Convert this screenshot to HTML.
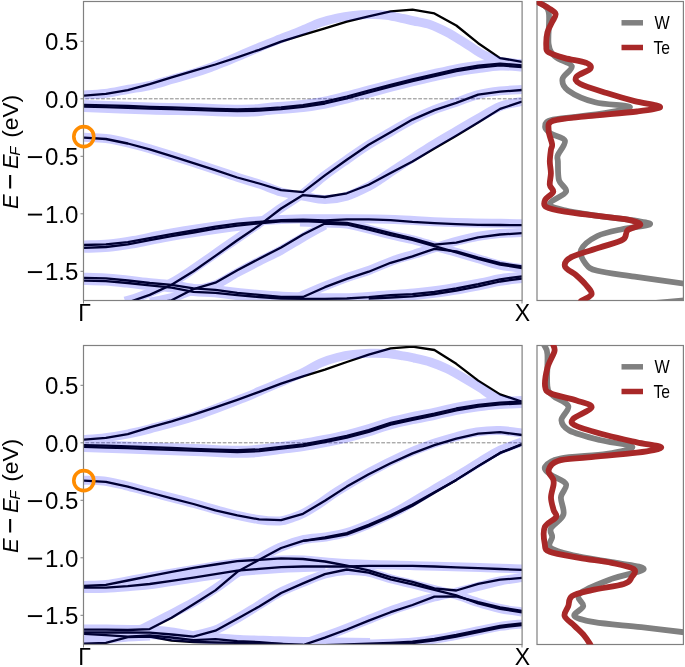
<!DOCTYPE html>
<html><head><meta charset="utf-8"><title>Band structure</title>
<style>
html,body{margin:0;padding:0;background:#fff;}
body{width:685px;height:667px;overflow:hidden;}
svg{display:block;}
text{font-family:"Liberation Sans",sans-serif;fill:#000;}
svg{will-change:transform;}
</style></head><body>
<svg width="685" height="667" viewBox="0 0 685 667">
<rect width="685" height="667" fill="#fff"/>
<clipPath id="c1"><rect x="84" y="1.0" width="438" height="299.5"/></clipPath>
<g clip-path="url(#c1)" fill="none" stroke-linejoin="round">
<line x1="84" y1="98.8" x2="522" y2="98.8" stroke="#888" stroke-width="1" stroke-dasharray="3.75 1.535" stroke-dashoffset="-1.3"/>
<path d="M84.0 95.7L105.9 93.9L127.8 90.1L149.7 84.2L171.6 77.4L193.5 70.9L215.4 64.5L237.3 57.3L259.2 49.8L281.1 41.7L303.0 34.8L324.9 28.3L346.8 21.6L368.7 16.3L390.6 11.4L412.5 9.7L434.4 13.4L456.3 25.5L478.2 43.2L500.1 58.1L522.0 61.8" stroke="#000" stroke-width="2.3"/>
<path d="M84.0 104.8L105.9 105.3L127.8 106.0L149.7 106.8L171.6 107.4L193.5 108.1L215.4 108.9L237.3 109.4L259.2 108.9L281.1 107.3L303.0 105.1L324.9 101.7L346.8 96.5L368.7 90.7L390.6 84.9L412.5 79.3L434.4 74.3L456.3 69.4L478.2 65.7L500.1 63.6L522.0 65.3" stroke="#000" stroke-width="2.3"/>
<path d="M84.0 106.6L105.9 107.1L127.8 107.8L149.7 108.6L171.6 109.2L193.5 109.9L215.4 110.7L237.3 111.2L259.2 110.7L281.1 109.1L303.0 106.9L324.9 103.5L346.8 98.3L368.7 92.5L390.6 86.7L412.5 81.1L434.4 76.1L456.3 71.2L478.2 67.5L500.1 65.4L522.0 67.1" stroke="#000" stroke-width="2.3"/>
<path d="M84.0 137.6L105.9 139.0L127.8 143.5L149.7 149.3L171.6 156.1L193.5 163.1L215.4 170.1L237.3 177.5L259.2 183.5L281.1 190.2L303.0 192.1L324.9 175.4L346.8 159.7L368.7 144.8L390.6 132.2L412.5 119.6L434.4 110.1L456.3 102.9L478.2 94.6L500.1 91.7L522.0 90.0" stroke="#000" stroke-width="2.3"/>
<path d="M127.8 302.5L149.7 294.9L171.6 284.7L193.5 271.3L215.4 255.9L237.3 240.3L259.2 225.4L281.1 208.5L303.0 195.1L324.9 197.0L346.8 193.3L368.7 184.8L390.6 172.9L412.5 161.4L434.4 148.4L456.3 135.8L478.2 122.6L500.1 108.9L522.0 101.6" stroke="#000" stroke-width="2.3"/>
<path d="M84.0 245.0L105.9 244.4L127.8 242.1L149.7 238.1L171.6 234.1L193.5 230.5L215.4 226.7L237.3 223.7L259.2 221.8L281.1 220.1L303.0 219.7L324.9 220.5L346.8 219.4L368.7 219.4L390.6 220.2L412.5 221.9L434.4 223.1L456.3 224.1L478.2 224.8L500.1 225.0L522.0 225.2" stroke="#000" stroke-width="2.3"/>
<path d="M84.0 247.8L105.9 247.0L127.8 244.3L149.7 240.1L171.6 236.1L193.5 232.5L215.4 228.7L237.3 225.7L259.2 223.3L281.1 221.4L303.0 221.0L324.9 222.0L346.8 222.8L368.7 227.7L390.6 233.1L412.5 238.3L434.4 244.6L456.3 242.7L478.2 237.4L500.1 234.5L522.0 233.2" stroke="#000" stroke-width="2.3"/>
<path d="M149.7 303.8L171.6 300.3L193.5 289.1L215.4 282.7L237.3 270.2L259.2 258.7L281.1 247.5L303.0 234.5L324.9 223.5L346.8 224.5L368.7 229.7L390.6 235.1L412.5 240.0L434.4 246.2L456.3 252.4L478.2 258.9L500.1 264.7L522.0 268.0" stroke="#000" stroke-width="2.3"/>
<path d="M84.0 277.9L105.9 278.3L127.8 280.5L149.7 283.0L171.6 284.9L193.5 288.3L215.4 289.8L237.3 292.9L259.2 294.9L281.1 296.8L303.0 297.0L324.9 287.2L346.8 278.9L368.7 271.7L390.6 262.8L412.5 256.3L434.4 248.8L456.3 251.3L478.2 257.6L500.1 263.2L522.0 266.3" stroke="#000" stroke-width="2.3"/>
<path d="M84.0 280.6L105.9 281.2L127.8 283.0L149.7 285.3L171.6 287.7L193.5 291.8L215.4 292.8L237.3 295.1L259.2 297.0L281.1 298.5L303.0 298.9L324.9 298.8L346.8 298.5L368.7 297.1L390.6 295.2L412.5 294.1L434.4 291.8L456.3 288.5L478.2 284.2L500.1 279.3L522.0 276.3" stroke="#000" stroke-width="2.3"/>
<path d="M368.7 298.7L390.6 297.5L412.5 296.3L434.4 294.0L456.3 290.7L478.2 286.4L500.1 281.5L522.0 278.5" stroke="#000" stroke-width="2.3"/>
<g opacity="0.20" stroke="#0000ff">
<path d="M84.0 95.0C87.5 94.8 97.6 94.5 105.0 93.5C112.4 92.5 121.0 90.6 128.5 89.3C136.0 88.0 142.8 87.1 150.0 85.5C157.2 83.9 164.1 81.6 171.4 79.5C178.7 77.4 187.5 75.0 194.0 73.0C200.5 71.0 205.0 69.5 210.5 67.5C216.0 65.5 221.5 63.2 227.0 61.0C232.5 58.8 238.0 56.3 243.5 54.0C249.0 51.7 254.5 49.3 260.0 47.0C265.5 44.7 271.0 42.6 276.5 40.4C282.0 38.2 288.4 35.8 293.0 34.0C297.6 32.2 299.4 31.4 304.0 29.5C308.6 27.6 315.0 24.4 320.5 22.5C326.0 20.6 331.5 19.3 337.0 18.1C342.5 16.9 348.0 16.1 353.5 15.5C359.0 14.9 364.5 14.6 370.0 14.5C375.5 14.4 381.0 14.5 386.5 15.2C392.0 15.9 398.4 17.5 403.0 18.5C407.6 19.5 409.4 20.0 414.0 21.0C418.6 22.0 425.0 22.8 430.5 24.7C436.0 26.6 441.5 29.3 447.0 32.2C452.5 35.1 458.0 38.7 463.5 42.1C469.0 45.5 475.3 50.1 480.0 52.8C484.7 55.5 488.2 57.0 491.5 58.5C494.8 60.0 494.9 60.6 500.0 61.5C505.1 62.4 518.3 63.6 522.0 64.0" stroke-width="9.0"/>
<path d="M84.0 106.0C95.0 106.4 131.7 108.0 150.0 108.5C168.3 109.0 181.2 109.0 194.0 109.3C206.8 109.6 217.4 110.3 227.0 110.5C236.6 110.7 244.5 110.8 251.7 110.5C258.9 110.2 261.4 109.5 270.0 108.8C278.6 108.0 293.9 107.0 303.0 106.0C312.1 105.0 317.6 104.0 324.9 102.6C332.2 101.2 339.5 99.2 346.8 97.4C354.1 95.6 361.4 93.5 368.7 91.6C376.0 89.7 383.3 87.7 390.6 85.8C397.9 83.9 405.2 82.0 412.5 80.2C419.8 78.4 427.1 76.9 434.4 75.2C441.7 73.5 449.0 71.7 456.3 70.3C463.6 68.9 470.9 68.0 478.2 67.0C485.5 66.0 492.8 64.8 500.1 64.5C507.4 64.2 518.4 65.3 522.0 65.5" stroke-width="12.0"/>
<path d="M84.0 137.3C87.7 137.5 98.6 137.6 105.9 138.5C113.2 139.4 120.5 141.1 127.8 142.8C135.1 144.5 138.8 145.5 149.7 148.8C160.6 152.1 178.9 157.8 193.5 162.5C208.1 167.2 226.4 173.7 237.3 177.3C248.2 180.9 251.9 181.6 259.2 184.0C266.5 186.4 273.8 190.0 281.1 192.0C288.4 194.0 295.7 194.8 303.0 196.0C310.3 197.2 317.7 199.5 325.0 199.5C332.3 199.5 339.5 198.4 346.8 196.2C354.1 194.0 363.2 189.3 368.7 186.5C374.2 183.7 375.7 182.3 380.0 179.5C384.3 176.7 389.0 173.2 394.7 169.5C400.4 165.8 407.4 161.2 414.0 157.0C420.6 152.8 427.3 148.3 434.4 144.0C441.4 139.7 449.0 135.4 456.3 131.2C463.6 126.9 470.9 122.6 478.2 118.5C485.5 114.4 492.8 109.4 500.1 106.5C507.4 103.6 518.4 102.2 522.0 101.3" stroke-width="9.0"/>
<path d="M125.0 301.0C127.5 300.2 132.3 299.5 140.0 296.5C147.7 293.5 162.0 287.7 171.0 283.0C180.0 278.3 184.7 274.8 194.0 268.5C203.3 262.2 216.3 252.9 227.0 245.5C237.7 238.1 249.3 230.2 258.3 224.0C267.3 217.8 273.7 213.1 281.1 208.0C288.6 202.9 295.7 198.9 303.0 193.5C310.3 188.1 317.6 181.0 324.9 175.4C332.2 169.8 339.5 164.8 346.8 159.7C354.1 154.6 361.4 149.4 368.7 144.8C376.0 140.2 383.3 136.2 390.6 132.0C397.9 127.8 405.2 123.1 412.5 119.4C419.8 115.7 427.1 112.5 434.4 109.6C441.7 106.7 449.0 104.7 456.3 102.2C463.6 99.7 470.9 96.5 478.2 94.6C485.5 92.7 492.8 91.7 500.1 90.9C507.4 90.1 518.4 89.8 522.0 89.6" stroke-width="9.0"/>
<path d="M84.0 245.0C88.1 244.8 100.5 244.8 108.7 244.0C117.0 243.2 125.2 241.9 133.5 240.5C141.8 239.1 149.9 237.1 158.2 235.5C166.4 233.9 171.5 232.8 183.0 231.0C194.5 229.2 214.2 226.2 227.0 224.5C239.8 222.8 247.2 221.8 260.0 220.8C272.8 219.9 289.8 219.1 304.0 218.8C318.2 218.5 329.9 218.7 345.0 218.8C360.1 218.9 377.7 218.9 394.7 219.5C411.7 220.1 425.8 221.5 447.0 222.2C468.2 222.9 509.5 223.4 522.0 223.7" stroke-width="9.0"/>
<path d="M84.0 248.3C88.1 248.1 100.5 248.1 108.7 247.3C117.0 246.6 125.2 245.2 133.5 243.8C141.8 242.4 149.9 240.4 158.2 238.8C166.4 237.2 171.5 236.1 183.0 234.3C194.5 232.5 214.2 229.5 227.0 227.8C239.8 226.1 254.5 224.7 260.0 224.1" stroke-width="9.0"/>
<path d="M300.0 222.0C304.2 222.2 317.6 222.7 325.4 223.0C333.2 223.3 339.5 222.9 346.9 224.0C354.3 225.1 362.6 227.7 370.0 229.5C377.4 231.3 384.1 233.2 391.4 235.0C398.7 236.8 406.7 238.1 414.0 240.0C421.3 241.9 428.5 244.4 435.4 246.4C442.3 248.4 448.0 249.9 455.2 252.0C462.4 254.1 470.9 256.5 478.3 258.7C485.7 260.9 492.5 263.4 499.8 265.0C507.1 266.6 518.3 267.9 522.0 268.5" stroke-width="9.0"/>
<path d="M150.0 302.0C154.0 301.2 166.9 298.9 174.0 297.0C181.1 295.1 185.8 292.4 192.5 290.5C199.2 288.6 206.9 288.3 214.4 285.3C221.9 282.3 229.8 276.6 237.3 272.6C244.8 268.6 251.9 264.9 259.2 261.2C266.5 257.5 273.8 254.2 281.1 250.2C288.4 246.2 295.7 241.5 303.0 237.3C310.3 233.1 321.2 227.1 324.9 225.0" stroke-width="9.0"/>
<path d="M84.0 277.2C87.6 277.3 98.2 277.4 105.4 277.9C112.6 278.3 120.1 279.2 126.9 279.9C133.7 280.6 139.0 281.4 146.3 282.2C153.6 283.0 162.9 283.6 170.8 284.6C178.7 285.6 186.3 287.6 193.6 288.4C200.9 289.2 206.9 288.9 214.6 289.6C222.3 290.3 228.7 291.6 240.0 292.7C251.3 293.8 269.3 295.5 282.6 296.2C295.9 296.9 313.8 296.8 320.0 296.9" stroke-width="9.0"/>
<path d="M84.0 280.4C87.6 280.5 98.2 280.7 105.4 281.1C112.6 281.6 120.1 282.4 126.9 283.1C133.7 283.8 139.0 284.6 146.3 285.4C153.6 286.2 162.9 286.8 170.8 287.8C178.7 288.8 186.3 290.8 193.6 291.6C200.9 292.4 206.9 292.1 214.6 292.8C222.3 293.5 228.7 294.8 240.0 295.9C251.3 297.0 269.3 298.7 282.6 299.4C295.9 300.1 313.8 300.0 320.0 300.1" stroke-width="9.0"/>
<path d="M300.0 296.5C304.4 294.7 318.1 288.8 326.4 285.5C334.7 282.2 342.7 279.1 350.0 276.5C357.3 273.9 362.6 272.8 370.0 270.0C377.4 267.2 387.4 262.6 394.7 260.0C402.0 257.4 407.2 256.4 414.0 254.3C420.8 252.2 428.5 249.6 435.4 247.5C442.3 245.4 448.0 243.4 455.2 241.5C462.4 239.6 470.9 237.5 478.3 236.2C485.7 234.9 492.5 234.1 499.8 233.5C507.1 232.9 518.3 232.7 522.0 232.5" stroke-width="9.0"/>
<path d="M320.0 297.8C325.6 297.7 342.4 297.9 353.5 297.4C364.6 296.9 376.4 295.7 386.5 295.0C396.6 294.3 403.9 294.0 414.0 293.0C424.1 292.0 436.0 290.7 447.0 289.0C458.0 287.3 471.2 284.7 480.0 283.0C488.8 281.3 492.8 280.0 499.8 278.8C506.8 277.6 518.3 276.5 522.0 276.0" stroke-width="9.0"/>
<path d="M320.0 300.3C325.6 300.2 342.4 300.4 353.5 299.9C364.6 299.4 376.4 298.2 386.5 297.5C396.6 296.8 403.9 296.5 414.0 295.5C424.1 294.5 436.0 293.2 447.0 291.5C458.0 289.8 471.2 287.2 480.0 285.5C488.8 283.8 492.8 282.5 499.8 281.3C506.8 280.1 518.3 279.0 522.0 278.5" stroke-width="9.0"/>
</g>
</g>
<rect x="83.5" y="1.5" width="438.6" height="299.0" fill="none" stroke="#808080" stroke-width="1.2"/>
<line x1="80.5" y1="41.3" x2="83.5" y2="41.3" stroke="#808080" stroke-width="1"/>
<line x1="80.5" y1="98.8" x2="83.5" y2="98.8" stroke="#808080" stroke-width="1"/>
<line x1="80.5" y1="156.3" x2="83.5" y2="156.3" stroke="#808080" stroke-width="1"/>
<line x1="80.5" y1="213.8" x2="83.5" y2="213.8" stroke="#808080" stroke-width="1"/>
<line x1="80.5" y1="271.3" x2="83.5" y2="271.3" stroke="#808080" stroke-width="1"/>
<line x1="83.5" y1="300.5" x2="83.5" y2="303.5" stroke="#808080" stroke-width="1"/>
<line x1="522" y1="300.5" x2="522" y2="303.5" stroke="#808080" stroke-width="1"/>
<text x="78.4" y="50.2" text-anchor="end" font-size="23.3" textLength="33.5" lengthAdjust="spacingAndGlyphs">0.5</text>
<text x="78.4" y="107.7" text-anchor="end" font-size="23.3" textLength="33.5" lengthAdjust="spacingAndGlyphs">0.0</text>
<text x="78.4" y="165.2" text-anchor="end" font-size="23.3" textLength="33.5" lengthAdjust="spacingAndGlyphs">0.5</text>
<rect x="27.9" y="156.15" width="14.2" height="1.9"/>
<text x="78.4" y="222.7" text-anchor="end" font-size="23.3" textLength="33.5" lengthAdjust="spacingAndGlyphs">1.0</text>
<rect x="27.9" y="213.65" width="14.2" height="1.9"/>
<text x="78.4" y="280.2" text-anchor="end" font-size="23.3" textLength="33.5" lengthAdjust="spacingAndGlyphs">1.5</text>
<rect x="27.9" y="271.15" width="14.2" height="1.9"/>
<text x="84.7" y="321.3" text-anchor="middle" font-size="23">Γ</text>
<text x="522.5" y="321.3" text-anchor="middle" font-size="23">X</text>
<text transform="translate(17.6 209.1) rotate(-90)" font-size="22" font-style="italic">E</text>
<rect x="9.1" y="175.0" width="2.1" height="13.5"/>
<text transform="translate(17.6 169.0) rotate(-90)" font-size="22" font-style="italic">E<tspan font-size="15" dx="-1.4" dy="2.2">F</tspan></text>
<text transform="translate(17.6 137.8) rotate(-90)" font-size="22" textLength="43.0" lengthAdjust="spacingAndGlyphs">(eV)</text>
<circle cx="83.8" cy="136.6" r="10" fill="none" stroke="#ff8c00" stroke-width="3.6"/>
<clipPath id="c2"><rect x="84" y="345.0" width="438" height="299.5"/></clipPath>
<g clip-path="url(#c2)" fill="none" stroke-linejoin="round">
<line x1="84" y1="442.8" x2="522" y2="442.8" stroke="#888" stroke-width="1" stroke-dasharray="3.75 1.535" stroke-dashoffset="-1.3"/>
<path d="M84.0 439.7L105.9 437.9L127.8 434.1L149.7 427.4L171.6 421.4L193.5 414.7L215.4 407.4L237.3 399.8L259.2 391.8L281.1 383.6L303.0 376.3L324.9 369.7L346.8 362.0L368.7 354.6L390.6 348.3L412.5 346.6L434.4 350.0L456.3 363.8L478.2 380.6L500.1 394.4L522.0 401.7" stroke="#000" stroke-width="2.3"/>
<path d="M84.0 445.1L105.9 445.7L127.8 446.4L149.7 447.2L171.6 448.0L193.5 448.8L215.4 449.6L237.3 450.2L259.2 449.4L281.1 446.9L303.0 444.4L324.9 440.4L346.8 435.9L368.7 430.1L390.6 422.9L412.5 418.1L434.4 413.6L456.3 408.5L478.2 404.9L500.1 402.6L522.0 401.6" stroke="#000" stroke-width="2.3"/>
<path d="M84.0 446.9L105.9 447.5L127.8 448.2L149.7 449.0L171.6 449.8L193.5 450.6L215.4 451.4L237.3 452.0L259.2 451.2L281.1 448.7L303.0 446.2L324.9 442.2L346.8 437.7L368.7 431.9L390.6 424.7L412.5 419.9L434.4 415.4L456.3 410.3L478.2 406.7L500.1 404.4L522.0 403.4" stroke="#000" stroke-width="2.3"/>
<path d="M84.0 480.6L105.9 481.8L127.8 486.6L149.7 492.5L171.6 498.4L193.5 504.0L215.4 510.4L237.3 515.3L259.2 519.4L281.1 520.1L303.0 513.8L324.9 500.7L346.8 486.6L368.7 474.3L390.6 463.3L412.5 453.4L434.4 445.2L456.3 438.7L478.2 433.6L500.1 432.2L522.0 435.0" stroke="#000" stroke-width="2.3"/>
<path d="M84.0 629.6L105.9 629.6L127.8 630.0L149.7 629.1L171.6 617.7L193.5 604.3L215.4 590.4L237.3 571.8L259.2 559.8L281.1 548.0L303.0 540.8L324.9 537.4L346.8 533.1L368.7 524.9L390.6 515.2L412.5 504.5L434.4 492.3L456.3 479.9L478.2 466.1L500.1 452.9L522.0 444.0" stroke="#000" stroke-width="2.3"/>
<path d="M303.0 540.8L324.9 538.4L346.8 534.4L368.7 526.2L390.6 516.5L412.5 505.7L434.4 492.7L456.3 479.9L478.2 466.1L500.1 452.9L522.0 444.6" stroke="#000" stroke-width="2.3"/>
<path d="M84.0 586.0L105.9 584.8L127.8 580.5L149.7 576.1L171.6 571.8L193.5 567.9L215.4 564.5L237.3 561.1L259.2 559.8L281.1 558.3L303.0 559.0L324.9 561.5L346.8 565.7L368.7 570.3L390.6 577.0L412.5 581.8L434.4 588.3L456.3 590.5L478.2 583.8L500.1 579.7L522.0 577.9" stroke="#000" stroke-width="2.3"/>
<path d="M84.0 587.6L105.9 587.6L127.8 586.1L149.7 584.0L171.6 580.9L193.5 577.6L215.4 574.2L237.3 570.6L259.2 568.9L281.1 567.2L303.0 566.5L324.9 566.5L346.8 566.5L368.7 565.9L390.6 565.8L412.5 565.9L434.4 566.5L456.3 567.3L478.2 568.1L500.1 569.0L522.0 569.8" stroke="#000" stroke-width="2.3"/>
<path d="M84.0 632.4L105.9 632.5L127.8 632.5L149.7 632.6L171.6 634.5L193.5 636.6L215.4 630.7L237.3 618.8L259.2 606.4L281.1 593.0L303.0 583.4L324.9 574.1L346.8 569.5L368.7 572.7L390.6 579.3L412.5 584.3L434.4 589.8L456.3 595.4L478.2 603.5L500.1 608.8L522.0 612.3" stroke="#000" stroke-width="2.3"/>
<path d="M303.0 645.1L324.9 637.6L346.8 629.5L368.7 620.6L390.6 612.2L412.5 605.0L434.4 596.6L456.3 596.4L478.2 602.2L500.1 607.4L522.0 610.9" stroke="#000" stroke-width="2.3"/>
<path d="M324.9 645.2L346.8 644.4L368.7 643.6L390.6 642.8L412.5 641.6L434.4 638.8L456.3 634.9L478.2 630.4L500.1 625.9L522.0 623.4" stroke="#000" stroke-width="2.3"/>
<path d="M324.9 646.8L346.8 646.0L368.7 645.2L390.6 644.4L412.5 643.2L434.4 640.4L456.3 636.5L478.2 632.0L500.1 627.5L522.0 625.0" stroke="#000" stroke-width="2.3"/>
<path d="M84.0 633.8L105.9 635.2L127.8 636.6L149.7 635.3L171.6 637.5L193.5 640.1L215.4 639.1L237.3 641.1L259.2 642.1L281.1 643.9L303.0 645.8L324.9 646.8L346.8 647.7" stroke="#000" stroke-width="2.3"/>
<path d="M84.0 643.6L105.9 642.8L127.8 637.1L149.7 636.7L171.6 640.5L193.5 642.0L215.4 642.5L237.3 642.9L259.2 643.5L281.1 644.0L303.0 644.6" stroke="#000" stroke-width="2.3"/>
<g opacity="0.20" stroke="#0000ff">
<path d="M84.0 439.5C87.6 439.2 98.0 438.6 105.4 437.6C112.8 436.7 121.1 435.3 128.5 433.8C135.9 432.3 139.1 431.7 150.0 428.8C160.9 425.9 178.4 421.6 194.0 416.5C209.6 411.4 232.5 402.2 243.5 398.0C254.5 393.8 254.5 393.3 260.0 391.0C265.5 388.7 269.2 387.2 276.5 384.0C283.8 380.8 296.7 375.5 304.0 372.0C311.3 368.5 315.0 365.4 320.5 363.0C326.0 360.6 331.5 358.9 337.0 357.5C342.5 356.1 348.0 355.1 353.5 354.4C359.0 353.7 364.5 353.3 370.0 353.2C375.5 353.1 381.0 353.1 386.5 353.5C392.0 353.9 398.4 355.1 403.0 355.9C407.6 356.6 409.4 357.0 414.0 358.0C418.6 359.0 425.0 360.3 430.5 362.1C436.0 363.9 441.5 366.1 447.0 368.7C452.5 371.3 458.0 374.6 463.5 377.8C469.0 381.0 475.1 384.6 480.0 387.7C484.9 390.8 488.8 394.3 493.0 396.5C497.2 398.7 500.2 399.9 505.0 401.0C509.8 402.1 519.2 402.7 522.0 403.0" stroke-width="9.0"/>
<path d="M84.0 446.0C92.2 446.3 115.2 447.1 133.5 447.8C151.8 448.5 178.4 449.4 194.0 450.0C209.6 450.6 217.4 451.2 227.0 451.5C236.6 451.8 242.1 452.2 251.7 451.5C261.3 450.8 276.1 448.5 284.7 447.4C293.2 446.3 296.3 446.1 303.0 445.0C309.7 443.9 317.6 442.4 324.9 441.0C332.2 439.6 339.5 438.1 346.8 436.3C354.1 434.5 361.4 432.5 368.7 430.3C376.0 428.1 383.3 425.2 390.6 423.2C397.9 421.2 405.2 419.8 412.5 418.2C419.8 416.6 427.1 415.4 434.4 413.8C441.7 412.2 449.0 410.2 456.3 408.8C463.6 407.4 470.9 406.3 478.2 405.3C485.5 404.3 492.8 403.6 500.1 403.0C507.4 402.4 518.4 402.2 522.0 402.0" stroke-width="12.0"/>
<path d="M84.0 480.3C87.3 480.4 96.9 480.1 103.8 481.0C110.7 481.9 117.5 483.7 125.2 485.5C132.9 487.3 138.5 489.0 150.0 492.0C161.5 495.0 181.2 500.0 194.0 503.5C206.8 507.0 216.3 510.1 227.0 512.8C237.7 515.5 249.5 518.1 258.3 519.5C267.1 520.9 274.0 521.3 279.8 521.0C285.6 520.7 289.0 518.8 293.0 517.5C297.0 516.2 299.4 515.4 304.0 513.0C308.6 510.6 315.0 506.6 320.5 503.0C326.0 499.4 328.8 496.7 337.0 491.5C345.2 486.3 359.0 478.0 370.0 472.0C381.0 466.0 392.9 460.1 403.0 455.5C413.1 450.9 421.5 447.7 430.5 444.5C439.5 441.3 449.3 438.6 457.0 436.5C464.7 434.4 469.6 433.0 476.7 432.0C483.8 431.0 492.2 430.3 499.8 430.5C507.4 430.7 518.3 432.6 522.0 433.0" stroke-width="9.0"/>
<path d="M140.0 630.0C144.4 627.8 157.5 621.2 166.5 616.5C175.5 611.8 185.8 606.7 194.0 602.0C202.2 597.3 208.2 593.3 215.4 588.5C222.6 583.7 229.8 577.9 236.9 573.0C244.1 568.1 251.2 563.2 258.3 559.0C265.4 554.8 272.2 550.8 279.8 547.5C287.4 544.2 296.4 541.2 304.0 539.5C311.6 537.8 318.2 538.2 325.4 537.0C332.5 535.8 339.5 534.7 346.9 532.5C354.3 530.3 362.8 526.8 370.0 523.8C377.2 520.8 384.5 517.4 390.0 514.8C395.5 512.2 396.2 511.9 403.0 508.0C409.8 504.1 423.2 495.9 430.5 491.5C437.8 487.1 441.5 485.0 447.0 481.8C452.5 478.6 458.0 475.5 463.5 472.2C469.0 468.9 473.9 465.4 480.0 461.8C486.1 458.2 492.8 453.6 499.8 450.3C506.8 447.0 518.3 443.4 522.0 442.0" stroke-width="9.0"/>
<path d="M84.0 585.5C87.7 585.3 98.3 585.3 106.0 584.5C113.7 583.7 122.1 581.9 130.0 580.5C137.9 579.1 142.7 578.1 153.4 576.3C164.1 574.5 180.1 571.7 194.0 569.5C207.9 567.3 222.6 564.6 236.9 563.0C251.2 561.4 268.6 560.5 279.8 560.0C291.0 559.5 292.8 559.4 304.0 560.0C315.2 560.6 328.6 562.5 346.9 563.5C365.2 564.5 391.8 565.0 414.0 565.7C436.2 566.4 462.0 567.0 480.0 567.5C498.0 568.0 515.0 568.8 522.0 569.0" stroke-width="9.0"/>
<path d="M84.0 588.5C87.7 588.5 98.3 588.6 106.0 588.3C113.7 588.0 122.1 587.2 130.0 586.5C137.9 585.8 142.7 585.6 153.4 584.2C164.1 582.8 180.1 580.0 194.0 578.0C207.9 576.0 222.6 573.6 236.9 572.0C251.2 570.4 268.6 569.2 279.8 568.5C291.0 567.8 296.4 567.8 304.0 567.5C311.6 567.2 321.8 567.1 325.4 567.0" stroke-width="9.0"/>
<path d="M325.4 563.5C329.0 564.1 339.5 565.5 346.9 567.0C354.3 568.5 362.6 570.5 370.0 572.5C377.4 574.5 384.3 577.1 391.4 579.0C398.5 580.9 405.3 582.2 412.5 584.0C419.7 585.8 427.1 587.7 434.4 589.5C441.7 591.3 449.0 592.8 456.3 595.0C463.6 597.2 470.9 600.2 478.2 602.5C485.5 604.8 492.8 606.9 500.1 608.5C507.4 610.1 518.4 611.4 522.0 612.0" stroke-width="9.0"/>
<path d="M194.0 635.5C197.6 634.6 208.2 632.8 215.4 630.0C222.6 627.2 229.8 622.6 236.9 618.5C244.1 614.4 251.2 609.8 258.3 605.5C265.4 601.2 272.2 596.4 279.8 592.5C287.4 588.6 296.4 585.1 304.0 582.0C311.6 578.9 318.2 575.9 325.4 574.0C332.5 572.1 339.5 570.8 346.9 570.5C354.3 570.2 366.1 571.8 370.0 572.0" stroke-width="9.0"/>
<path d="M304.0 643.5C309.5 641.6 326.0 636.1 337.0 632.0C348.0 627.9 360.9 622.6 370.0 619.0C379.1 615.4 384.3 613.1 391.4 610.5C398.5 607.9 405.3 605.8 412.5 603.5C419.7 601.2 427.1 598.9 434.4 597.0C441.7 595.1 449.0 593.8 456.3 592.0C463.6 590.2 470.9 588.3 478.2 586.5C485.5 584.7 492.8 582.5 500.1 581.0C507.4 579.5 518.4 578.1 522.0 577.5" stroke-width="9.0"/>
<path d="M330.0 645.5C336.7 645.2 356.0 644.6 370.0 644.0C384.0 643.4 401.2 643.1 414.0 642.0C426.8 640.9 436.0 639.0 447.0 637.1C458.0 635.2 471.2 632.3 480.0 630.5C488.8 628.7 492.8 627.5 499.8 626.4C506.8 625.3 518.3 624.3 522.0 623.9" stroke-width="9.0"/>
<path d="M84.0 629.0C87.9 629.0 99.6 628.9 107.4 629.0C115.2 629.1 124.0 629.4 130.7 629.5C137.4 629.6 140.8 629.1 147.6 629.5C154.4 629.9 163.9 631.0 171.6 632.0C179.3 633.0 186.9 634.6 193.9 635.5C200.9 636.4 206.0 636.8 213.7 637.5C221.4 638.2 230.6 639.0 240.0 639.5C249.4 640.0 259.3 640.2 270.0 640.5C280.7 640.8 287.3 641.2 304.0 641.5C320.7 641.8 359.0 642.3 370.0 642.5" stroke-width="9.0"/>
<path d="M84.0 633.0C89.8 633.2 108.0 633.8 119.0 634.0C130.0 634.2 137.5 633.8 150.0 634.5C162.5 635.2 175.7 637.2 194.0 638.5C212.3 639.8 241.7 641.2 260.0 642.0C278.3 642.8 296.7 642.8 304.0 643.0" stroke-width="9.0"/>
<path d="M84.0 639.5C87.5 639.5 97.7 639.7 105.0 639.3C112.3 638.9 120.3 637.5 127.8 637.0C135.3 636.5 146.3 636.2 150.0 636.0" stroke-width="9.0"/>
</g>
</g>
<rect x="83.5" y="345.5" width="438.6" height="299.0" fill="none" stroke="#808080" stroke-width="1.2"/>
<line x1="80.5" y1="385.3" x2="83.5" y2="385.3" stroke="#808080" stroke-width="1"/>
<line x1="80.5" y1="442.8" x2="83.5" y2="442.8" stroke="#808080" stroke-width="1"/>
<line x1="80.5" y1="500.3" x2="83.5" y2="500.3" stroke="#808080" stroke-width="1"/>
<line x1="80.5" y1="557.8" x2="83.5" y2="557.8" stroke="#808080" stroke-width="1"/>
<line x1="80.5" y1="615.3" x2="83.5" y2="615.3" stroke="#808080" stroke-width="1"/>
<line x1="83.5" y1="644.5" x2="83.5" y2="647.5" stroke="#808080" stroke-width="1"/>
<line x1="522" y1="644.5" x2="522" y2="647.5" stroke="#808080" stroke-width="1"/>
<text x="78.4" y="394.2" text-anchor="end" font-size="23.3" textLength="33.5" lengthAdjust="spacingAndGlyphs">0.5</text>
<text x="78.4" y="451.7" text-anchor="end" font-size="23.3" textLength="33.5" lengthAdjust="spacingAndGlyphs">0.0</text>
<text x="78.4" y="509.2" text-anchor="end" font-size="23.3" textLength="33.5" lengthAdjust="spacingAndGlyphs">0.5</text>
<rect x="27.9" y="500.15" width="14.2" height="1.9"/>
<text x="78.4" y="566.7" text-anchor="end" font-size="23.3" textLength="33.5" lengthAdjust="spacingAndGlyphs">1.0</text>
<rect x="27.9" y="557.65" width="14.2" height="1.9"/>
<text x="78.4" y="624.2" text-anchor="end" font-size="23.3" textLength="33.5" lengthAdjust="spacingAndGlyphs">1.5</text>
<rect x="27.9" y="615.15" width="14.2" height="1.9"/>
<text x="84.7" y="665.3" text-anchor="middle" font-size="23">Γ</text>
<text x="522.5" y="665.3" text-anchor="middle" font-size="23">X</text>
<text transform="translate(17.6 553.1) rotate(-90)" font-size="22" font-style="italic">E</text>
<rect x="9.1" y="519.0" width="2.1" height="13.5"/>
<text transform="translate(17.6 513.0) rotate(-90)" font-size="22" font-style="italic">E<tspan font-size="15" dx="-1.4" dy="2.2">F</tspan></text>
<text transform="translate(17.6 481.8) rotate(-90)" font-size="22" textLength="43.0" lengthAdjust="spacingAndGlyphs">(eV)</text>
<circle cx="83.8" cy="480.6" r="10" fill="none" stroke="#ff8c00" stroke-width="3.6"/>
<rect x="537.0" y="1.5" width="146.4" height="299.0" fill="none" stroke="#808080" stroke-width="1.2"/>
<clipPath id="d1"><rect x="536.7" y="1.0" width="147.3" height="299.5"/></clipPath>
<g clip-path="url(#d1)" fill="none" stroke-linejoin="round" stroke-linecap="round">
<path d="M538.1 2.3C539.9 3.8 546.9 4.6 548.6 11.6C550.4 18.6 547.4 36.7 548.6 44.2C549.8 51.8 551.7 53.2 555.6 56.9C559.5 60.6 570.6 62.5 571.8 66.2C572.9 69.9 563.1 74.9 562.5 79.0C561.9 83.1 562.9 86.7 568.3 90.6C573.7 94.5 584.8 99.6 595.1 102.3C605.4 105.0 629.1 105.0 629.9 106.9C630.7 108.8 612.5 111.8 599.7 113.9C586.9 116.0 562.3 117.6 553.2 119.7C544.1 121.8 545.5 124.4 545.1 126.7C544.7 129.0 547.6 131.3 550.9 133.6C554.2 135.9 563.7 137.0 564.9 140.6C566.1 144.2 559.1 151.5 557.9 155.0C556.7 158.5 557.7 157.4 557.9 161.6C558.1 165.8 557.6 175.2 559.0 180.2C560.4 185.2 567.5 187.9 566.0 191.8C564.5 195.7 550.0 200.4 549.8 203.5C549.6 206.6 556.6 208.3 564.9 210.4C573.2 212.5 587.7 214.4 599.7 216.2C611.7 217.9 628.6 219.5 636.9 220.9C645.2 222.3 652.0 223.1 649.7 224.4C647.4 225.8 631.7 227.1 623.0 229.0C614.3 230.9 604.4 232.5 597.4 236.0C590.4 239.5 583.0 245.2 581.1 249.9C579.2 254.6 583.1 260.4 585.8 263.9C588.5 267.4 589.3 268.7 597.4 270.8C605.5 272.9 619.2 274.4 634.6 276.7C650.0 279.0 680.8 283.2 690.0 284.5" stroke="#808080" stroke-width="5.8"/>
<path d="M620.0 306.1L700.0 299.0" stroke="#808080" stroke-width="5.8"/>
<path d="M538.1 2.3C539.9 3.3 545.7 6.2 548.6 8.1C551.5 10.0 555.0 11.6 555.6 13.9C556.2 16.2 553.5 19.0 552.1 22.1C550.7 25.2 548.4 28.4 547.4 32.5C546.4 36.6 546.1 43.2 546.3 46.5C546.5 49.8 545.5 50.4 548.6 52.3C551.7 54.2 558.7 56.4 564.9 58.1C571.1 59.8 581.5 61.0 585.8 62.7C590.0 64.5 591.9 66.3 590.4 68.6C588.9 70.9 578.2 74.2 576.5 76.7C574.8 79.2 575.0 81.0 580.0 83.7C585.0 86.4 597.6 90.1 606.7 93.0C615.8 95.9 625.7 98.8 634.6 101.1C643.5 103.4 659.7 105.2 660.1 106.9C660.5 108.6 648.9 110.0 636.9 111.5C624.9 113.0 602.0 114.7 588.1 116.2C574.2 117.8 559.8 118.5 553.2 120.8C546.6 123.1 548.8 126.2 548.6 130.1C548.4 134.0 551.7 140.8 552.1 144.1C552.5 147.4 551.3 147.1 550.9 150.0C550.5 152.9 549.8 157.7 549.8 161.6C549.8 165.5 550.9 169.3 550.9 173.2C550.9 177.1 549.4 181.8 549.8 184.9C550.2 188.0 554.0 189.3 553.2 191.8C552.4 194.3 546.2 197.5 545.1 200.0C544.0 202.5 543.0 205.0 546.3 206.9C549.6 208.8 556.0 210.1 564.9 211.6C573.8 213.1 589.2 214.8 599.7 216.2C610.2 217.5 620.8 218.3 627.6 219.7C634.4 221.1 640.4 222.7 640.4 224.4C640.4 226.2 630.5 227.7 627.6 230.2C624.7 232.7 627.6 236.6 623.0 239.5C618.4 242.4 608.2 244.7 599.7 247.6C591.2 250.5 577.6 253.8 571.8 256.9C566.0 260.0 564.1 263.1 564.9 266.2C565.7 269.3 573.0 272.4 576.5 275.5C580.0 278.6 583.3 281.7 585.8 284.8C588.3 287.9 592.4 291.4 591.6 294.1C590.8 296.8 582.9 299.9 581.1 301.0" stroke="#a82828" stroke-width="5.8"/>
</g>
<line x1="621.5" y1="22.8" x2="643" y2="22.8" stroke="#808080" stroke-width="5.5"/>
<line x1="621.5" y1="47.5" x2="643" y2="47.5" stroke="#a82828" stroke-width="5.5"/>
<text x="654.6" y="29.3" font-size="17.6" textLength="15.2" lengthAdjust="spacingAndGlyphs">W</text>
<text x="653.4" y="53.7" font-size="17.8" textLength="16.6" lengthAdjust="spacingAndGlyphs">Te</text>
<rect x="537.0" y="345.5" width="146.4" height="299.0" fill="none" stroke="#808080" stroke-width="1.2"/>
<clipPath id="d2"><rect x="536.7" y="345.0" width="147.3" height="299.5"/></clipPath>
<g clip-path="url(#d2)" fill="none" stroke-linejoin="round" stroke-linecap="round">
<path d="M544.0 345.0C544.6 346.5 546.8 347.1 547.4 354.0C548.0 360.9 546.4 379.5 547.4 386.5C548.4 393.5 549.7 392.5 553.2 395.8C556.7 399.1 566.9 402.1 568.3 406.2C569.7 410.3 561.2 416.1 561.4 420.2C561.6 424.3 563.1 427.3 569.5 430.6C575.9 433.9 589.2 437.3 599.7 440.0C610.2 442.7 631.1 444.6 632.3 446.9C633.5 449.2 618.7 452.0 606.7 453.9C594.7 455.8 570.5 456.4 560.2 458.5C549.9 460.6 546.7 464.0 545.1 466.7C543.5 469.4 547.4 471.9 550.9 474.8C554.4 477.7 564.3 480.3 566.0 484.1C567.7 487.9 561.3 492.3 560.9 497.4C560.5 502.5 565.0 509.6 563.4 514.7C561.8 519.9 552.9 524.6 551.0 528.3C549.1 532.0 552.2 533.6 552.2 536.9C552.2 540.2 546.5 544.7 551.0 548.0C555.5 551.3 568.5 554.2 579.4 556.7C590.3 559.2 605.8 560.8 616.5 562.9C627.2 565.0 644.5 566.4 643.7 569.1C642.9 571.8 622.3 574.8 611.6 578.9C600.9 583.0 584.1 589.3 579.4 593.8C574.7 598.3 584.0 602.4 583.2 606.1C582.4 609.8 572.6 613.3 574.5 616.0C576.4 618.7 583.2 620.3 594.3 622.2C605.4 624.1 625.2 625.4 641.2 627.2C657.2 629.0 681.9 632.0 690.0 633.0" stroke="#808080" stroke-width="5.8"/>
<path d="M553.2 345.0C553.4 346.1 555.4 347.8 554.4 351.6C553.4 355.4 548.9 362.1 547.4 367.9C545.9 373.7 544.5 382.2 545.1 386.5C545.7 390.8 545.7 391.2 550.9 393.5C556.1 395.8 569.7 398.1 576.5 400.4C583.3 402.7 592.2 404.3 591.6 407.4C591.0 410.5 575.5 415.9 573.0 419.0C570.5 422.1 570.9 423.3 576.5 426.0C582.1 428.7 596.6 432.6 606.7 435.3C616.8 438.0 627.8 440.3 636.9 442.3C646.0 444.3 661.3 445.7 661.3 447.4C661.3 449.1 649.1 451.0 636.9 452.7C624.7 454.4 601.3 456.0 588.1 457.4C574.9 458.8 564.5 458.8 557.9 460.9C551.3 463.0 549.4 467.1 548.6 470.2C547.8 473.3 552.4 476.9 553.2 479.4C554.0 481.9 553.9 482.0 553.5 485.0C553.1 488.0 551.0 493.3 551.0 497.4C551.0 501.5 552.7 506.4 553.5 509.7C554.3 513.0 557.5 514.2 556.0 517.1C554.5 520.0 546.7 522.5 544.8 527.0C542.9 531.5 544.0 540.2 544.8 544.3C545.6 548.4 544.0 549.4 549.8 551.7C555.6 554.0 569.1 556.0 579.4 557.9C589.7 559.8 602.5 561.0 611.6 562.9C620.7 564.8 630.5 566.6 633.8 569.1C637.1 571.6 633.0 575.2 631.4 577.7C629.8 580.2 630.5 581.8 623.9 583.9C617.3 586.0 600.4 588.0 591.8 590.1C583.1 592.2 575.9 593.5 572.0 596.2C568.1 598.9 569.5 602.8 568.3 606.1C567.1 609.4 563.6 612.7 564.6 616.0C565.6 619.3 571.2 622.6 574.5 625.9C577.8 629.2 581.7 632.6 584.4 635.8C587.1 639.0 589.6 643.5 590.6 645.0" stroke="#a82828" stroke-width="5.8"/>
</g>
<line x1="621.5" y1="366.8" x2="643" y2="366.8" stroke="#808080" stroke-width="5.5"/>
<line x1="621.5" y1="391.5" x2="643" y2="391.5" stroke="#a82828" stroke-width="5.5"/>
<text x="654.6" y="373.3" font-size="17.6" textLength="15.2" lengthAdjust="spacingAndGlyphs">W</text>
<text x="653.4" y="397.7" font-size="17.8" textLength="16.6" lengthAdjust="spacingAndGlyphs">Te</text>
</svg>
</body></html>
